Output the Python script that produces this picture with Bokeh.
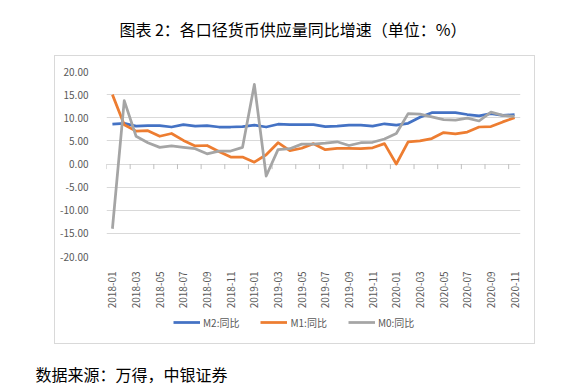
import math
from bokeh.plotting import figure
from bokeh.models import (Range1d, FixedTicker, NumeralTickFormatter, Label,
                          Legend, LegendItem, Spacer)
from bokeh.layouts import column, row
from bokeh.embed import file_html
from bokeh.resources import INLINE

# ---------------- data ----------------
months = [f"{y}-{m:02d}" for y in (2018, 2019, 2020) for m in range(1, 13)][:35]

m2 = [8.6, 8.8, 8.2, 8.3, 8.3, 8.0, 8.5, 8.2, 8.3, 8.0, 8.0, 8.1,
      8.4, 8.0, 8.6, 8.5, 8.5, 8.5, 8.1, 8.2, 8.4, 8.4, 8.2, 8.7,
      8.4, 8.8, 10.1, 11.1, 11.1, 11.1, 10.7, 10.4, 10.9, 10.5, 10.7]
m1 = [15.0, 8.5, 7.1, 7.2, 6.0, 6.6, 5.1, 3.9, 4.0, 2.7, 1.5, 1.5,
      0.4, 2.0, 4.6, 2.9, 3.4, 4.4, 3.1, 3.4, 3.4, 3.3, 3.5, 4.4,
      0.0, 4.8, 5.0, 5.5, 6.8, 6.5, 6.9, 8.0, 8.1, 9.1, 10.0]
m0 = [-14.0, 13.7, 6.0, 4.6, 3.6, 3.9, 3.6, 3.3, 2.2, 2.8, 2.8, 3.6,
      17.2, -2.6, 3.1, 3.3, 4.3, 4.3, 4.5, 4.8, 4.0, 4.6, 4.7, 5.4,
      6.6, 10.9, 10.8, 10.2, 9.6, 9.5, 9.9, 9.3, 11.2, 10.5, 10.3]

series_names = ["M2:同比", "M1:同比", "M0:同比"]
series_colors = ["#4472C4", "#ED7D31", "#A5A5A5"]
yticks = [-20, -15, -10, -5, 0, 5, 10, 15, 20]
title_text = "图表 2：各口径货币供应量同比增速（单位：%）"
source_text = "数据来源：万得，中银证券"

FONT = "Noto Sans CJK SC"
LW = 2.75


def strip(w, h):
    f = figure(width=w, height=h, output_backend="svg", toolbar_location=None,
               x_range=Range1d(0, 1), y_range=Range1d(0, 1),
               x_axis_location=None, y_axis_location=None,
               min_border=0, min_border_left=0, min_border_right=0,
               min_border_top=0, min_border_bottom=0)
    f.outline_line_color = None
    f.xgrid.visible = False
    f.ygrid.visible = False
    return f


# ---------------- title strip ----------------
pt = strip(579, 55)
pt.add_layout(Label(x=292.5, y=27, x_units="screen", y_units="screen", text=title_text,
                    text_align="center", text_baseline="middle", text_font=FONT,
                    text_font_size="16px", text_color="#000000"))

# ---------------- main chart ----------------
n = len(months)
xs = list(range(n))

p = figure(width=479, height=255, output_backend="svg", toolbar_location=None,
           x_range=Range1d(-0.5, n - 0.5), y_range=Range1d(yticks[0], yticks[-1]),
           min_border_left=51, min_border_right=14, min_border_top=15,
           min_border_bottom=55)
p.outline_line_color = None
p.background_fill_color = "white"
p.border_fill_color = "white"

p.xgrid.visible = False
p.ygrid.grid_line_color = "#D9D9D9"
p.ygrid.grid_line_width = 1

ya = p.yaxis[0]
ya.ticker = FixedTicker(ticks=yticks)
ya.formatter = NumeralTickFormatter(format="0.00")
ya.axis_line_color = None
ya.major_tick_line_color = None
ya.minor_tick_line_color = None
ya.major_label_standoff = 12
ya.major_label_text_font = FONT
ya.major_label_text_font_size = "10px"
ya.major_label_text_color = "#595959"

xa = p.xaxis[0]
label_idx = list(range(0, n, 2))
xa.ticker = FixedTicker(ticks=label_idx)
xa.major_label_overrides = {i: months[i] for i in label_idx}
xa.major_label_orientation = math.pi / 2
xa.axis_line_color = None
xa.major_tick_line_color = None
xa.minor_tick_line_color = None
xa.major_label_standoff = 9
xa.major_label_text_font = FONT
xa.major_label_text_font_size = "10px"
xa.major_label_text_color = "#595959"

# category tick marks hanging from the zero line
bounds = [i - 0.5 for i in range(0, n, 2)]
p.segment(x0=bounds, y0=[0] * len(bounds), x1=bounds, y1=[-1.1] * len(bounds),
          line_color="#BFBFBF", line_width=1)

for vals, col in zip([m2, m1, m0], series_colors):
    p.line(xs, vals, line_color=col, line_width=LW, line_join="round")

# ---------------- legend strip (inside the chart box) ----------------
pl = strip(479, 32)
# one-point lines: nothing is drawn on the strip, only their legend samples
samples = [pl.line([-1], [-1], line_color=col, line_width=LW) for col in series_colors]
legend = Legend(items=[LegendItem(label=nm, renderers=[r]) for nm, r in zip(series_names, samples)],
                orientation="horizontal", location=(67, 11),
                padding=0, margin=0, spacing=21, label_standoff=3,
                glyph_width=27, glyph_height=20, label_height=20,
                border_line_color=None, background_fill_alpha=0,
                label_text_font=FONT, label_text_font_size="10px",
                label_text_color="#595959")
pl.add_layout(legend, "center")

box = column(p, pl, styles={"border": "1px solid #D9D9D9"})

# ---------------- source strip ----------------
pf = strip(579, 42)
pf.add_layout(Label(x=35, y=13, x_units="screen", y_units="screen", text=source_text,
                    text_align="left", text_baseline="middle", text_font=FONT,
                    text_font_size="16px", text_color="#000000"))

layout = column(pt, row(Spacer(width=54, height=287), box), pf)

open("out.html", "w").write(file_html(layout, INLINE))
